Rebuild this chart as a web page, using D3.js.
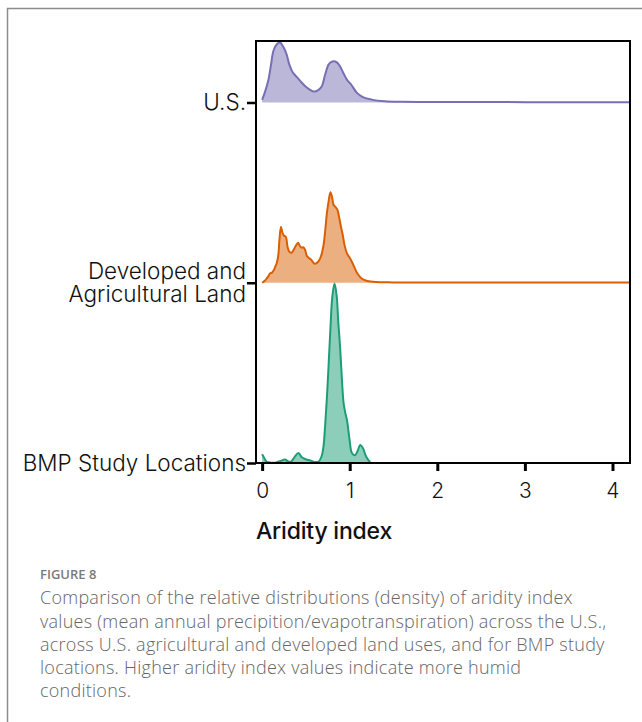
<!DOCTYPE html>
<html>
<head>
<meta charset="utf-8">
<script src="https://cdn.jsdelivr.net/npm/d3@7"></script>
<style>
  html, body { margin: 0; padding: 0; background: #fff; }
  svg { display: block; }
</style>
</head>
<body>
<script>
// ---------------- DATA ----------------
const categories = ["U.S.", "Developed and Agricultural Land", "BMP Study Locations"];
const categoryLines = [["U.S."], ["Developed and", "Agricultural Land"], ["BMP Study Locations"]];
const xTicks = [0, 1, 2, 3, 4];
const xTitle = "Aridity index";

const usX = [0.00, 0.03, 0.07, 0.10, 0.13, 0.17, 0.205, 0.24, 0.28, 0.31, 0.35, 0.40, 0.45, 0.51, 0.59, 0.64, 0.68, 0.72, 0.76, 0.80, 0.85, 0.89, 0.93, 0.97, 1.02, 1.08, 1.15, 1.25, 1.40, 1.60, 2.00, 3.00, 4.20];
const usDensity = [0.015, 0.055, 0.122, 0.205, 0.288, 0.324, 0.332, 0.310, 0.266, 0.211, 0.166, 0.139, 0.111, 0.083, 0.061, 0.069, 0.089, 0.155, 0.211, 0.227, 0.224, 0.199, 0.161, 0.125, 0.097, 0.055, 0.030, 0.016, 0.007, 0.004, 0.003, 0.002, 0.001];

const devX = [0.00, 0.03, 0.054, 0.075, 0.091, 0.11, 0.129, 0.15, 0.168, 0.185, 0.197, 0.215, 0.232, 0.25, 0.27, 0.29, 0.31, 0.335, 0.36, 0.385, 0.41, 0.43, 0.45, 0.47, 0.49, 0.51, 0.53, 0.56, 0.60, 0.64, 0.67, 0.70, 0.72, 0.74, 0.76, 0.78, 0.80, 0.815, 0.835, 0.86, 0.88, 0.90, 0.92, 0.94, 0.97, 1.00, 1.03, 1.06, 1.09, 1.14, 1.20, 1.30, 1.50, 2.00, 4.20];
const devDensity = [0.000, 0.011, 0.025, 0.039, 0.053, 0.055, 0.066, 0.089, 0.111, 0.155, 0.233, 0.310, 0.277, 0.260, 0.255, 0.199, 0.172, 0.166, 0.183, 0.205, 0.222, 0.205, 0.194, 0.197, 0.183, 0.150, 0.139, 0.127, 0.105, 0.116, 0.144, 0.205, 0.288, 0.388, 0.454, 0.501, 0.471, 0.432, 0.421, 0.404, 0.360, 0.310, 0.266, 0.211, 0.161, 0.139, 0.111, 0.078, 0.050, 0.022, 0.010, 0.004, 0.002, 0.001, 0.001];

const bmpX = [0.00, 0.03, 0.054, 0.10, 0.15, 0.21, 0.26, 0.30, 0.33, 0.37, 0.415, 0.45, 0.49, 0.55, 0.60, 0.645, 0.68, 0.70, 0.72, 0.74, 0.76, 0.78, 0.80, 0.826, 0.85, 0.87, 0.89, 0.91, 0.93, 0.95, 0.97, 1.00, 1.025, 1.06, 1.09, 1.12, 1.15, 1.19, 1.234];
const bmpDensity = [0.048, 0.022, 0.006, 0.002, 0.002, 0.011, 0.019, 0.008, 0.008, 0.033, 0.055, 0.033, 0.022, 0.014, 0.006, 0.008, 0.039, 0.089, 0.211, 0.366, 0.554, 0.748, 0.914, 0.994, 0.931, 0.776, 0.643, 0.471, 0.332, 0.277, 0.233, 0.122, 0.055, 0.043, 0.066, 0.100, 0.083, 0.033, 0.003];

const strokeColors = ["#7570b3", "#d95f02", "#1b9e77"];
const captionHead = "FIGURE 8";
const captionLines = [
  "Comparison of the relative distributions (density) of aridity index",
  "values (mean annual precipition/evapotranspiration) across the U.S.,",
  "across U.S. agricultural and developed land uses, and for BMP study",
  "locations. Higher aridity index values indicate more humid",
  "conditions."
];

// ---------------- CHART ----------------
const W = 642, H = 722;
const svg = d3.select("body").append("svg").attr("width", W).attr("height", H);

// outer page frame
svg.append("path").attr("d", "M7.5,722 V8.5 H642")
  .attr("fill", "none").attr("stroke", "#8c8c8c").attr("stroke-width", 1.5);

const panel = { left: 256, right: 630, top: 41, bottom: 463 };
const x = d3.scaleLinear().domain([-0.07, 4.2]).range([panel.left, panel.right]);
const y = d3.scalePoint().domain(categories).range([102.5, 463]);
const h = d3.scaleLinear().domain([0, 1]).range([0, 180.5]);

svg.append("defs").append("clipPath").attr("id", "clip")
  .append("rect").attr("x", panel.left).attr("y", panel.top)
  .attr("width", panel.right - panel.left).attr("height", panel.bottom - panel.top);

const series = [
  { cat: categories[0], xs: usX, ds: usDensity },
  { cat: categories[1], xs: devX, ds: devDensity },
  { cat: categories[2], xs: bmpX, ds: bmpDensity }
];

const g = svg.append("g").attr("clip-path", "url(#clip)");
series.forEach((s, i) => {
  const pts = s.xs.map((v, j) => [v, s.ds[j]]);
  const base = y(s.cat);
  const area = d3.area().x(d => x(d[0])).y0(base).y1(d => base - h(d[1])).curve(d3.curveCatmullRom.alpha(0.5));
  const line = d3.line().x(d => x(d[0])).y(d => base - h(d[1])).curve(d3.curveCatmullRom.alpha(0.5));
  g.append("path").datum(pts).attr("d", area)
    .attr("fill", strokeColors[i]).attr("fill-opacity", 0.5);
  g.append("path").datum(pts).attr("d", line)
    .attr("fill", "none").attr("stroke", strokeColors[i]).attr("stroke-width", 2)
    .attr("stroke-linejoin", "round");
});

// panel frame
svg.append("rect").attr("x", panel.left).attr("y", panel.top)
  .attr("width", panel.right - panel.left).attr("height", panel.bottom - panel.top)
  .attr("fill", "none").attr("stroke", "#000").attr("stroke-width", 2);

const labelFont = "Inter, sans-serif";

// x axis
const xAxis = d3.axisBottom(x).tickValues(xTicks).tickSize(8).tickPadding(12).tickFormat(d3.format("d"));
const gx = svg.append("g").attr("transform", `translate(0,${panel.bottom})`).call(xAxis);
gx.select(".domain").remove();
gx.selectAll(".tick line").attr("stroke", "#000").attr("stroke-width", 3);
gx.selectAll(".tick text").attr("font-family", labelFont).attr("font-size", 21)
  .attr("font-weight", 300).attr("fill", "#111");

// y axis
const yAxis = d3.axisLeft(y).tickSize(9).tickFormat("");
const gy = svg.append("g").attr("transform", `translate(${panel.left},0)`).call(yAxis);
gy.select(".domain").remove();
gy.selectAll(".tick line").attr("stroke", "#000").attr("stroke-width", 2.5);
categories.forEach((c, i) => {
  const lines = categoryLines[i];
  const t = svg.append("text").attr("x", 246).attr("text-anchor", "end")
    .attr("font-family", labelFont).attr("font-size", 22.5).attr("font-weight", 300)
    .attr("letter-spacing", 0).attr("fill", "#111");
  const lh = 23.5;
  const y0 = y(c) - (lines.length - 1) * lh / 2;
  lines.forEach((l, k) => {
    t.append("tspan").attr("x", 246).attr("y", y0 + k * lh).attr("dy", "0.35em").text(l);
  });
});

// x title
svg.append("text").attr("x", 256).attr("y", 531).attr("dy", "0.35em")
  .attr("font-family", labelFont).attr("font-size", 23).attr("font-weight", 500)
  .attr("letter-spacing", -0.2).attr("fill", "#111").text(xTitle);

// caption
svg.append("text").attr("x", 40).attr("y", 574).attr("dy", "0.35em")
  .attr("font-family", "'Open Sans', sans-serif").attr("font-size", 13).attr("font-weight", 600)
  .attr("fill", "#7a7a7a").text(captionHead);
captionLines.forEach((l, i) => {
  svg.append("text").attr("x", 40).attr("y", 598 + i * 23.2).attr("dy", "0.35em")
    .attr("font-family", "'Open Sans', sans-serif").attr("font-size", 18).attr("font-weight", 300)
    .attr("letter-spacing", 0.25).attr("fill", "#666").text(l);
});
</script>
</body>
</html>
